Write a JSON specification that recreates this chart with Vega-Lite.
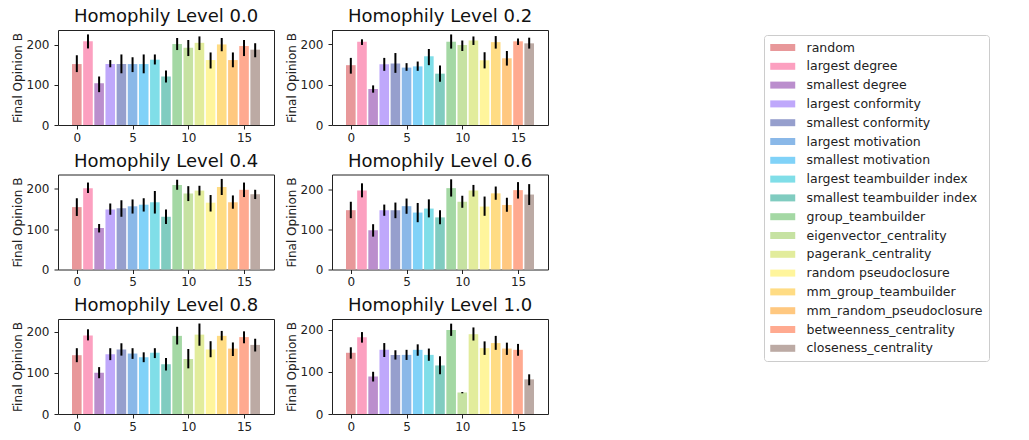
{
  "$schema": "https://vega.github.io/schema/vega-lite/v6.json",
  "padding": {"left": 10, "top": 7, "right": 0, "bottom": 0},
  "datasets": {
    "strategies": [
      {"idx": 0, "strategy": "random"},
      {"idx": 1, "strategy": "largest degree"},
      {"idx": 2, "strategy": "smallest degree"},
      {"idx": 3, "strategy": "largest conformity"},
      {"idx": 4, "strategy": "smallest conformity"},
      {"idx": 5, "strategy": "largest motivation"},
      {"idx": 6, "strategy": "smallest motivation"},
      {"idx": 7, "strategy": "largest teambuilder index"},
      {"idx": 8, "strategy": "smallest teambuilder index"},
      {"idx": 9, "strategy": "group_teambuilder"},
      {"idx": 10, "strategy": "eigenvector_centrality"},
      {"idx": 11, "strategy": "pagerank_centrality"},
      {"idx": 12, "strategy": "random pseudoclosure"},
      {"idx": 13, "strategy": "mm_group_teambuilder"},
      {"idx": 14, "strategy": "mm_random_pseudoclosure"},
      {"idx": 15, "strategy": "betweenness_centrality"},
      {"idx": 16, "strategy": "closeness_centrality"}
    ],
    "rows": [
      {"level": "0.0", "idx": 0, "mean": 152, "lo": 132, "hi": 174},
      {"level": "0.0", "idx": 1, "mean": 209, "lo": 191, "hi": 226},
      {"level": "0.0", "idx": 2, "mean": 104, "lo": 82, "hi": 121},
      {"level": "0.0", "idx": 3, "mean": 152, "lo": 144, "hi": 162},
      {"level": "0.0", "idx": 4, "mean": 152, "lo": 129, "hi": 176},
      {"level": "0.0", "idx": 5, "mean": 152, "lo": 132, "hi": 169},
      {"level": "0.0", "idx": 6, "mean": 152, "lo": 129, "hi": 176},
      {"level": "0.0", "idx": 7, "mean": 163, "lo": 151, "hi": 176},
      {"level": "0.0", "idx": 8, "mean": 121, "lo": 106, "hi": 136},
      {"level": "0.0", "idx": 9, "mean": 202, "lo": 187, "hi": 217},
      {"level": "0.0", "idx": 10, "mean": 193, "lo": 172, "hi": 212},
      {"level": "0.0", "idx": 11, "mean": 205, "lo": 187, "hi": 221},
      {"level": "0.0", "idx": 12, "mean": 162, "lo": 141, "hi": 181},
      {"level": "0.0", "idx": 13, "mean": 201, "lo": 184, "hi": 217},
      {"level": "0.0", "idx": 14, "mean": 162, "lo": 144, "hi": 181},
      {"level": "0.0", "idx": 15, "mean": 197, "lo": 172, "hi": 212},
      {"level": "0.0", "idx": 16, "mean": 188, "lo": 169, "hi": 204},
      {"level": "0.2", "idx": 0, "mean": 148, "lo": 127, "hi": 166},
      {"level": "0.2", "idx": 1, "mean": 206, "lo": 198, "hi": 212},
      {"level": "0.2", "idx": 2, "mean": 89, "lo": 80, "hi": 98},
      {"level": "0.2", "idx": 3, "mean": 150, "lo": 134, "hi": 166},
      {"level": "0.2", "idx": 4, "mean": 152, "lo": 129, "hi": 178},
      {"level": "0.2", "idx": 5, "mean": 142, "lo": 134, "hi": 153},
      {"level": "0.2", "idx": 6, "mean": 145, "lo": 134, "hi": 157},
      {"level": "0.2", "idx": 7, "mean": 170, "lo": 148, "hi": 188},
      {"level": "0.2", "idx": 8, "mean": 127, "lo": 107, "hi": 147},
      {"level": "0.2", "idx": 9, "mean": 206, "lo": 189, "hi": 224},
      {"level": "0.2", "idx": 10, "mean": 198, "lo": 183, "hi": 209},
      {"level": "0.2", "idx": 11, "mean": 209, "lo": 198, "hi": 219},
      {"level": "0.2", "idx": 12, "mean": 160, "lo": 140, "hi": 180},
      {"level": "0.2", "idx": 13, "mean": 205, "lo": 189, "hi": 220},
      {"level": "0.2", "idx": 14, "mean": 165, "lo": 147, "hi": 183},
      {"level": "0.2", "idx": 15, "mean": 207, "lo": 198, "hi": 214},
      {"level": "0.2", "idx": 16, "mean": 202, "lo": 189, "hi": 216},
      {"level": "0.4", "idx": 0, "mean": 155, "lo": 133, "hi": 177},
      {"level": "0.4", "idx": 1, "mean": 202, "lo": 190, "hi": 216},
      {"level": "0.4", "idx": 2, "mean": 103, "lo": 92, "hi": 113},
      {"level": "0.4", "idx": 3, "mean": 149, "lo": 136, "hi": 164},
      {"level": "0.4", "idx": 4, "mean": 152, "lo": 131, "hi": 172},
      {"level": "0.4", "idx": 5, "mean": 157, "lo": 139, "hi": 174},
      {"level": "0.4", "idx": 6, "mean": 161, "lo": 144, "hi": 177},
      {"level": "0.4", "idx": 7, "mean": 167, "lo": 139, "hi": 195},
      {"level": "0.4", "idx": 8, "mean": 131, "lo": 113, "hi": 149},
      {"level": "0.4", "idx": 9, "mean": 210, "lo": 198, "hi": 223},
      {"level": "0.4", "idx": 10, "mean": 189, "lo": 170, "hi": 207},
      {"level": "0.4", "idx": 11, "mean": 196, "lo": 184, "hi": 208},
      {"level": "0.4", "idx": 12, "mean": 166, "lo": 144, "hi": 185},
      {"level": "0.4", "idx": 13, "mean": 205, "lo": 185, "hi": 225},
      {"level": "0.4", "idx": 14, "mean": 167, "lo": 151, "hi": 184},
      {"level": "0.4", "idx": 15, "mean": 198, "lo": 180, "hi": 216},
      {"level": "0.4", "idx": 16, "mean": 187, "lo": 175, "hi": 198},
      {"level": "0.6", "idx": 0, "mean": 148, "lo": 128, "hi": 169},
      {"level": "0.6", "idx": 1, "mean": 197, "lo": 180, "hi": 215},
      {"level": "0.6", "idx": 2, "mean": 98, "lo": 82, "hi": 113},
      {"level": "0.6", "idx": 3, "mean": 148, "lo": 134, "hi": 162},
      {"level": "0.6", "idx": 4, "mean": 148, "lo": 128, "hi": 167},
      {"level": "0.6", "idx": 5, "mean": 158, "lo": 139, "hi": 177},
      {"level": "0.6", "idx": 6, "mean": 142, "lo": 118, "hi": 166},
      {"level": "0.6", "idx": 7, "mean": 152, "lo": 130, "hi": 175},
      {"level": "0.6", "idx": 8, "mean": 130, "lo": 113, "hi": 148},
      {"level": "0.6", "idx": 9, "mean": 203, "lo": 182, "hi": 225},
      {"level": "0.6", "idx": 10, "mean": 169, "lo": 154, "hi": 184},
      {"level": "0.6", "idx": 11, "mean": 197, "lo": 182, "hi": 211},
      {"level": "0.6", "idx": 12, "mean": 157, "lo": 134, "hi": 182},
      {"level": "0.6", "idx": 13, "mean": 190, "lo": 174, "hi": 207},
      {"level": "0.6", "idx": 14, "mean": 161, "lo": 144, "hi": 179},
      {"level": "0.6", "idx": 15, "mean": 198, "lo": 177, "hi": 218},
      {"level": "0.6", "idx": 16, "mean": 187, "lo": 161, "hi": 213},
      {"level": "0.8", "idx": 0, "mean": 143, "lo": 126, "hi": 160},
      {"level": "0.8", "idx": 1, "mean": 191, "lo": 179, "hi": 206},
      {"level": "0.8", "idx": 2, "mean": 100, "lo": 87, "hi": 114},
      {"level": "0.8", "idx": 3, "mean": 145, "lo": 131, "hi": 160},
      {"level": "0.8", "idx": 4, "mean": 157, "lo": 142, "hi": 172},
      {"level": "0.8", "idx": 5, "mean": 147, "lo": 134, "hi": 160},
      {"level": "0.8", "idx": 6, "mean": 138, "lo": 126, "hi": 150},
      {"level": "0.8", "idx": 7, "mean": 149, "lo": 136, "hi": 160},
      {"level": "0.8", "idx": 8, "mean": 121, "lo": 106, "hi": 136},
      {"level": "0.8", "idx": 9, "mean": 190, "lo": 169, "hi": 212},
      {"level": "0.8", "idx": 10, "mean": 134, "lo": 111, "hi": 158},
      {"level": "0.8", "idx": 11, "mean": 193, "lo": 166, "hi": 220},
      {"level": "0.8", "idx": 12, "mean": 157, "lo": 138, "hi": 177},
      {"level": "0.8", "idx": 13, "mean": 190, "lo": 179, "hi": 202},
      {"level": "0.8", "idx": 14, "mean": 159, "lo": 141, "hi": 174},
      {"level": "0.8", "idx": 15, "mean": 187, "lo": 172, "hi": 201},
      {"level": "0.8", "idx": 16, "mean": 168, "lo": 152, "hi": 183},
      {"level": "1.0", "idx": 0, "mean": 145, "lo": 131, "hi": 158},
      {"level": "1.0", "idx": 1, "mean": 182, "lo": 169, "hi": 194},
      {"level": "1.0", "idx": 2, "mean": 89, "lo": 77, "hi": 100},
      {"level": "1.0", "idx": 3, "mean": 152, "lo": 135, "hi": 168},
      {"level": "1.0", "idx": 4, "mean": 140, "lo": 129, "hi": 151},
      {"level": "1.0", "idx": 5, "mean": 140, "lo": 128, "hi": 152},
      {"level": "1.0", "idx": 6, "mean": 152, "lo": 138, "hi": 165},
      {"level": "1.0", "idx": 7, "mean": 140, "lo": 126, "hi": 155},
      {"level": "1.0", "idx": 8, "mean": 115, "lo": 94, "hi": 137},
      {"level": "1.0", "idx": 9, "mean": 199, "lo": 185, "hi": 214},
      {"level": "1.0", "idx": 10, "mean": 51, "lo": 49, "hi": 52},
      {"level": "1.0", "idx": 11, "mean": 189, "lo": 174, "hi": 205},
      {"level": "1.0", "idx": 12, "mean": 156, "lo": 140, "hi": 172},
      {"level": "1.0", "idx": 13, "mean": 168, "lo": 152, "hi": 185},
      {"level": "1.0", "idx": 14, "mean": 155, "lo": 140, "hi": 169},
      {"level": "1.0", "idx": 15, "mean": 152, "lo": 138, "hi": 166},
      {"level": "1.0", "idx": 16, "mean": 82, "lo": 68, "hi": 94}
    ]
  },
  "data": {"name": "rows"},
  "columns": 2,
  "spacing": {"row": 7.5, "column": 9},
  "resolve": {"scale": {"x": "independent", "y": "independent", "color": "shared"}, "legend": {"color": "shared"}},
  "concat": [
    {
      "title": "Homophily Level 0.0",
      "width": 216, "height": 95,
      "transform": [{"filter": "datum.level == '0.0'"}, {"lookup": "idx", "from": {"data": {"name": "strategies"}, "key": "idx", "fields": ["strategy"]}}],
      "layer": [
        {"mark": {"type": "bar", "size": 9.6}, "encoding": {
          "x": {"field": "idx", "type": "quantitative", "scale": {"domain": [-1.24, 17.24], "nice": false, "zero": false}, "axis": {"values": [0, 5, 10, 15], "title": null}},
          "y": {"field": "mean", "type": "quantitative", "scale": {"domain": [0, 237], "nice": false}, "axis": {"values": [0, 100, 200], "title": "Final Opinion B"}},
          "color": {"field": "strategy", "type": "nominal",
            "scale": {"domain": ["random", "largest degree", "smallest degree", "largest conformity", "smallest conformity", "largest motivation", "smallest motivation", "largest teambuilder index", "smallest teambuilder index", "group_teambuilder", "eigenvector_centrality", "pagerank_centrality", "random pseudoclosure", "mm_group_teambuilder", "mm_random_pseudoclosure", "betweenness_centrality", "closeness_centrality"],
              "range": ["#e8989a", "#fca0c0", "#bb8ecd", "#bfa8fb", "#969fcd", "#8ab8e8", "#80d2f8", "#80dee8", "#80ccc0", "#a4d8a4", "#c6e2a2", "#e2ec9c", "#fff59c", "#ffdc84", "#ffc880", "#ffaa90", "#bcaaa4"]},
            "legend": {"title": null, "orient": "none", "legendX": 706, "legendY": 5}}
        }},
        {"mark": {"type": "rule", "strokeWidth": 2, "color": "black"}, "encoding": {
          "x": {"field": "idx", "type": "quantitative"},
          "y": {"field": "lo", "type": "quantitative"},
          "y2": {"field": "hi"}
        }}
      ]
    },
    {
      "title": "Homophily Level 0.2",
      "width": 216, "height": 95,
      "transform": [{"filter": "datum.level == '0.2'"}, {"lookup": "idx", "from": {"data": {"name": "strategies"}, "key": "idx", "fields": ["strategy"]}}],
      "layer": [
        {"mark": {"type": "bar", "size": 9.6}, "encoding": {
          "x": {"field": "idx", "type": "quantitative", "scale": {"domain": [-1.24, 17.24], "nice": false, "zero": false}, "axis": {"values": [0, 5, 10, 15], "title": null}},
          "y": {"field": "mean", "type": "quantitative", "scale": {"domain": [0, 235], "nice": false}, "axis": {"values": [0, 100, 200], "title": "Final Opinion B"}},
          "color": {"field": "strategy", "type": "nominal", "legend": {"title": null, "orient": "none", "legendX": 706, "legendY": 5}}
        }},
        {"mark": {"type": "rule", "strokeWidth": 2, "color": "black"}, "encoding": {
          "x": {"field": "idx", "type": "quantitative"},
          "y": {"field": "lo", "type": "quantitative"},
          "y2": {"field": "hi"}
        }}
      ]
    },
    {
      "title": "Homophily Level 0.4",
      "width": 216, "height": 95,
      "transform": [{"filter": "datum.level == '0.4'"}, {"lookup": "idx", "from": {"data": {"name": "strategies"}, "key": "idx", "fields": ["strategy"]}}],
      "layer": [
        {"mark": {"type": "bar", "size": 9.6}, "encoding": {
          "x": {"field": "idx", "type": "quantitative", "scale": {"domain": [-1.24, 17.24], "nice": false, "zero": false}, "axis": {"values": [0, 5, 10, 15], "title": null}},
          "y": {"field": "mean", "type": "quantitative", "scale": {"domain": [0, 236], "nice": false}, "axis": {"values": [0, 100, 200], "title": "Final Opinion B"}},
          "color": {"field": "strategy", "type": "nominal", "legend": {"title": null, "orient": "none", "legendX": 706, "legendY": 5}}
        }},
        {"mark": {"type": "rule", "strokeWidth": 2, "color": "black"}, "encoding": {
          "x": {"field": "idx", "type": "quantitative"},
          "y": {"field": "lo", "type": "quantitative"},
          "y2": {"field": "hi"}
        }}
      ]
    },
    {
      "title": "Homophily Level 0.6",
      "width": 216, "height": 95,
      "transform": [{"filter": "datum.level == '0.6'"}, {"lookup": "idx", "from": {"data": {"name": "strategies"}, "key": "idx", "fields": ["strategy"]}}],
      "layer": [
        {"mark": {"type": "bar", "size": 9.6}, "encoding": {
          "x": {"field": "idx", "type": "quantitative", "scale": {"domain": [-1.24, 17.24], "nice": false, "zero": false}, "axis": {"values": [0, 5, 10, 15], "title": null}},
          "y": {"field": "mean", "type": "quantitative", "scale": {"domain": [0, 237], "nice": false}, "axis": {"values": [0, 100, 200], "title": "Final Opinion B"}},
          "color": {"field": "strategy", "type": "nominal", "legend": {"title": null, "orient": "none", "legendX": 706, "legendY": 5}}
        }},
        {"mark": {"type": "rule", "strokeWidth": 2, "color": "black"}, "encoding": {
          "x": {"field": "idx", "type": "quantitative"},
          "y": {"field": "lo", "type": "quantitative"},
          "y2": {"field": "hi"}
        }}
      ]
    },
    {
      "title": "Homophily Level 0.8",
      "width": 216, "height": 95,
      "transform": [{"filter": "datum.level == '0.8'"}, {"lookup": "idx", "from": {"data": {"name": "strategies"}, "key": "idx", "fields": ["strategy"]}}],
      "layer": [
        {"mark": {"type": "bar", "size": 9.6}, "encoding": {
          "x": {"field": "idx", "type": "quantitative", "scale": {"domain": [-1.24, 17.24], "nice": false, "zero": false}, "axis": {"values": [0, 5, 10, 15], "title": null}},
          "y": {"field": "mean", "type": "quantitative", "scale": {"domain": [0, 231], "nice": false}, "axis": {"values": [0, 100, 200], "title": "Final Opinion B"}},
          "color": {"field": "strategy", "type": "nominal", "legend": {"title": null, "orient": "none", "legendX": 706, "legendY": 5}}
        }},
        {"mark": {"type": "rule", "strokeWidth": 2, "color": "black"}, "encoding": {
          "x": {"field": "idx", "type": "quantitative"},
          "y": {"field": "lo", "type": "quantitative"},
          "y2": {"field": "hi"}
        }}
      ]
    },
    {
      "title": "Homophily Level 1.0",
      "width": 216, "height": 95,
      "transform": [{"filter": "datum.level == '1.0'"}, {"lookup": "idx", "from": {"data": {"name": "strategies"}, "key": "idx", "fields": ["strategy"]}}],
      "layer": [
        {"mark": {"type": "bar", "size": 9.6}, "encoding": {
          "x": {"field": "idx", "type": "quantitative", "scale": {"domain": [-1.24, 17.24], "nice": false, "zero": false}, "axis": {"values": [0, 5, 10, 15], "title": null}},
          "y": {"field": "mean", "type": "quantitative", "scale": {"domain": [0, 225], "nice": false}, "axis": {"values": [0, 100, 200], "title": "Final Opinion B"}},
          "color": {"field": "strategy", "type": "nominal", "legend": {"title": null, "orient": "none", "legendX": 706, "legendY": 5}}
        }},
        {"mark": {"type": "rule", "strokeWidth": 2, "color": "black"}, "encoding": {
          "x": {"field": "idx", "type": "quantitative"},
          "y": {"field": "lo", "type": "quantitative"},
          "y2": {"field": "hi"}
        }}
      ]
    }
  ],
  "config": {
    "font": "DejaVu Sans",
    "view": {"stroke": "#222", "strokeWidth": 1},
    "title": {"fontSize": 18, "fontWeight": "normal", "color": "#111", "offset": 4, "anchor": "middle"},
    "axis": {"domain": false, "grid": false, "tickColor": "#222", "tickSize": 4, "tickWidth": 1, "labelFontSize": 12, "labelColor": "#222", "titleFontSize": 12, "titleFontWeight": "normal", "titleColor": "#222"},
    "axisX": {"labelPadding": 3},
    "axisY": {"labelPadding": 5, "titlePadding": 2},
    "legend": {"symbolType": "M-1,-0.56H3V0.56H-1Z", "symbolSize": 156, "symbolStrokeWidth": 0, "symbolOpacity": 1, "labelFontSize": 12.5, "labelColor": "#222", "labelOffset": 23.5, "rowPadding": 5.8, "padding": 6, "strokeColor": "#ccc", "fillColor": "white", "cornerRadius": 3, "labelLimit": 300}
  }
}
